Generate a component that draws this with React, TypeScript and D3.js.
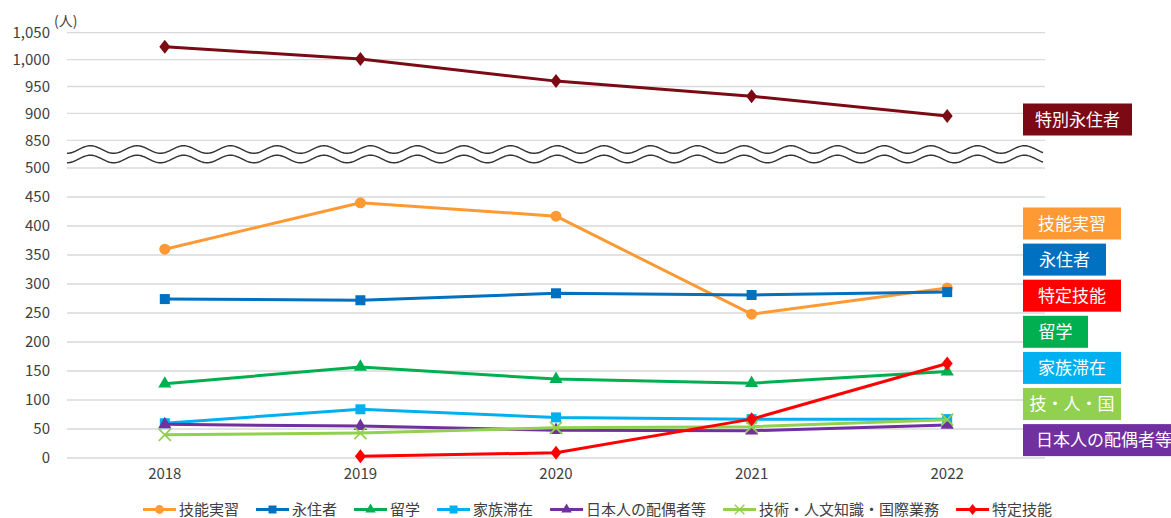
import React, { useEffect, useRef } from "react";
import * as d3 from "d3";

// data (人)
const years = ["2018", "2019", "2020", "2021", "2022"];
const tokubetsuEijusha = [1024, 1001, 960, 932, 895];
const ginouJisshu = [360, 440, 417, 248, 293];
const eijusha = [274, 272, 284, 281, 286];
const ryugaku = [128, 157, 136, 129, 149];
const kazokuTaizai = [60, 84, 70, 67, 67];
const haigusha = [58, 55, 48, 47, 57];
const gijinkoku = [40, 43, 52, 54, 66];
const tokuteiGinou = [null, 3, 9, 67, 163];

const seriesNames = ["技能実習", "永住者", "留学", "家族滞在", "日本人の配偶者等", "技術・人文知識・国際業務", "特定技能"];
const seriesValues = [ginouJisshu, eijusha, ryugaku, kazokuTaizai, haigusha, gijinkoku, tokuteiGinou];
const seriesColors = ["#FF9933", "#0070C0", "#00B050", "#00B0F0", "#7030A0", "#92D050", "#FF0000"];
const seriesMarkers = ["circle", "square", "triangle", "square", "triangle", "x", "diamond"];

const topName = "特別永住者";
const topColor = "#7B0A14";

const sideLabels = ["技能実習", "永住者", "特定技能", "留学", "家族滞在", "技・人・国", "日本人の配偶者等"];
const sideColors = ["#FF9933", "#0070C0", "#FF0000", "#00B050", "#00B0F0", "#92D050", "#7030A0"];

const lowerTicks = [0, 50, 100, 150, 200, 250, 300, 350, 400, 450, 500];
const upperTicks = [850, 900, 950, 1000, 1050];

const FONT = "'Noto Sans CJK JP', 'Noto Sans', sans-serif";
const W = 1171;
const H = 518;
const sideWidths = [98, 83, 98, 65, 98, 98, 170];

function markerPath(type: string) {
  if (type === "circle") return d3.symbol(d3.symbolCircle, Math.PI * 5.5 * 5.5)();
  if (type === "square") return d3.symbol(d3.symbolSquare, 100)();
  if (type === "triangle") return d3.symbol(d3.symbolTriangle, 75)();
  if (type === "diamond") return "M0,-7L5.5,0L0,7L-5.5,0Z";
  return "M-6,-6L6,6M6,-6L-6,6";
}

const App = () => {
  const svgRef = useRef<SVGSVGElement>(null);

  useEffect(() => {
    const svg = d3.select(svgRef.current);
    svg.selectAll("*").remove();

    const x = d3.scalePoint().domain(years).range([67, 1045]).padding(0.5);
    const y = d3.scaleLinear().domain([0, 500, 850, 1050]).range([458, 168, 140.3, 32.7]);

    // grid
    const ticks = [...lowerTicks, ...upperTicks];
    svg.append("g")
      .selectAll("line")
      .data(ticks)
      .join("line")
      .attr("x1", 67)
      .attr("x2", 1045)
      .attr("y1", (d) => y(d))
      .attr("y2", (d) => y(d))
      .attr("stroke", "#d9d9d9")
      .attr("stroke-width", 1.3);

    svg.append("g")
      .selectAll("text")
      .data(ticks)
      .join("text")
      .attr("x", 50)
      .attr("y", (d) => y(d))
      .attr("dy", "0.35em")
      .attr("text-anchor", "end")
      .style("font", `15px ${FONT}`)
      .attr("fill", "#404040")
      .text((d) => d3.format(",")(d));

    svg.append("text")
      .attr("x", 54)
      .attr("y", 26)
      .style("font", `14px ${FONT}`)
      .attr("fill", "#404040")
      .text("(人)");

    // x labels
    svg.append("g")
      .selectAll("text")
      .data(years)
      .join("text")
      .attr("x", (d) => x(d)!)
      .attr("y", 479)
      .attr("text-anchor", "middle")
      .style("font", `15px ${FONT}`)
      .attr("fill", "#404040")
      .text((d) => d);

    // axis break waves
    const waveX = d3.range(67, 1043.5, 1);
    [149.5, 159].forEach((c) => {
      const wave = d3.line<number>()
        .x((d) => d)
        .y((d) => c + 3.8 * Math.cos((2 * Math.PI * (d - 67)) / 46.7))
        .curve(d3.curveBasis);
      svg.append("path")
        .attr("d", wave(waveX))
        .attr("fill", "none")
        .attr("stroke", "#333")
        .attr("stroke-width", 1.4);
    });

    const line = d3.line<number | null>()
      .defined((d) => d != null)
      .x((d, i) => x(years[i])!)
      .y((d) => y(d as number));

    const drawSeries = (vals: (number | null)[], color: string, marker: string) => {
      const g = svg.append("g");
      g.append("path")
        .attr("d", line(vals))
        .attr("fill", "none")
        .attr("stroke", color)
        .attr("stroke-width", 3)
        .attr("stroke-linejoin", "round");
      g.selectAll("path.m")
        .data(vals.map((v, i) => ({ v, i })).filter((d) => d.v != null))
        .join("path")
        .attr("class", "m")
        .attr("transform", (d) => `translate(${x(years[d.i])},${y(d.v as number)})`)
        .attr("d", markerPath(marker))
        .attr("fill", marker === "x" ? "none" : color)
        .attr("stroke", color)
        .attr("stroke-width", marker === "x" ? 1.8 : 0);
    };

    drawSeries(tokubetsuEijusha, topColor, "diamond");
    seriesValues.forEach((vals, k) => drawSeries(vals, seriesColors[k], seriesMarkers[k]));

    // side labels
    const drawTag = (name: string, color: string, bx: number, by: number, bw: number, left: boolean) => {
      const g = svg.append("g");
      g.append("rect")
        .attr("x", bx)
        .attr("y", by)
        .attr("width", bw)
        .attr("height", 32)
        .attr("fill", color);
      g.append("text")
        .attr("x", left ? bx + 13 : bx + bw / 2)
        .attr("y", by + 16)
        .attr("dy", "0.36em")
        .attr("text-anchor", left ? "start" : "middle")
        .style("font", `17px ${FONT}`)
        .attr("fill", "#fff")
        .text(name);
    };
    drawTag(topName, topColor, 1023, 103.5, 109, false);
    sideLabels.forEach((name, k) => drawTag(name, sideColors[k], 1023, 207.5 + k * 36.1, sideWidths[k], k === 6));

    // legend
    let lx = 143;
    const ly = 509.5;
    seriesNames.forEach((name, k) => {
      const g = svg.append("g");
      g.append("line")
        .attr("x1", lx)
        .attr("x2", lx + 33)
        .attr("y1", ly)
        .attr("y2", ly)
        .attr("stroke", seriesColors[k])
        .attr("stroke-width", 3);
      g.append("path")
        .attr("transform", `translate(${lx + 16.5},${ly}) scale(0.8)`)
        .attr("d", markerPath(seriesMarkers[k]))
        .attr("fill", seriesMarkers[k] === "x" ? "none" : seriesColors[k])
        .attr("stroke", seriesColors[k])
        .attr("stroke-width", seriesMarkers[k] === "x" ? 1.8 : 0);
      const t = g.append("text")
        .attr("x", lx + 36)
        .attr("y", ly)
        .attr("dy", "0.36em")
        .style("font", `15px ${FONT}`)
        .attr("fill", "#404040")
        .text(name);
      const tw = (t.node() as SVGTextElement).getComputedTextLength();
      lx += 36 + tw + 17;
    });
  }, []);

  return (
    <svg
      ref={svgRef}
      width={W}
      height={H}
      style={{ position: "absolute", left: 0, top: 0, background: "#fff" }}
    />
  );
};

export default App;
